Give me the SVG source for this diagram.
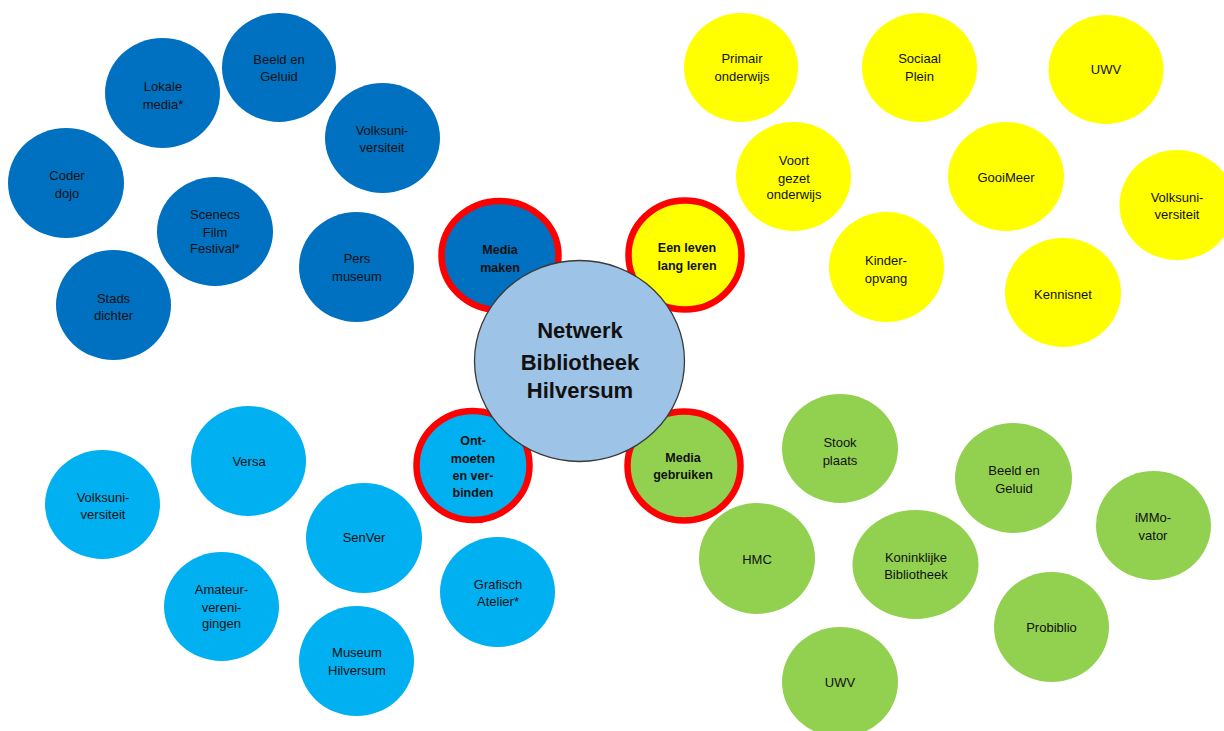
<svg xmlns="http://www.w3.org/2000/svg" width="1224" height="731" viewBox="0 0 1224 731">
<style>
text{font-family:"Liberation Sans",Arial,sans-serif;text-anchor:middle;fill:#111}
.t{font-size:13px}
.b{font-size:12.5px;font-weight:bold}
.c{font-size:22px;font-weight:bold}
.db{fill:#0070C0}
.ye{fill:#FFFF00}
.lb{fill:#00B0F0}
.gr{fill:#92D050}
.cat{stroke:#FF0000;stroke-width:6.5}
.hub{fill:#9DC3E6;stroke:#3a3a3a;stroke-width:1.3}
</style>
<rect width="1224" height="731" fill="#fff"/>
<g id="connectors"></g>

<!-- Dark blue: Media maken network -->
<g id="n-lokale-media"><ellipse class="db" cx="162.5" cy="93" rx="57.5" ry="55"/><text class="t" x="163" y="90.5">Lokale</text><text class="t" x="163" y="108.5">media*</text></g>
<g id="n-beeld-geluid-1"><ellipse class="db" cx="279" cy="67.5" rx="57" ry="54.5"/><text class="t" x="279" y="63.5">Beeld en</text><text class="t" x="279" y="80.5">Geluid</text></g>
<g id="n-volksuni-1"><ellipse class="db" cx="382.5" cy="138" rx="57.5" ry="55"/><text class="t" x="382" y="134.5">Volksuni-</text><text class="t" x="382" y="151.5">versiteit</text></g>
<g id="n-coder-dojo"><ellipse class="db" cx="66" cy="183" rx="58" ry="55"/><text class="t" x="67" y="179.5">Coder</text><text class="t" x="67" y="197.5">dojo</text></g>
<g id="n-scenecs"><ellipse class="db" cx="215" cy="231.5" rx="58" ry="54.5"/><text class="t" x="215" y="218.5">Scenecs</text><text class="t" x="215" y="236.5">Film</text><text class="t" x="215" y="252.5">Festival*</text></g>
<g id="n-stads-dichter"><ellipse class="db" cx="113.5" cy="305" rx="57.5" ry="55"/><text class="t" x="113.5" y="302.5">Stads</text><text class="t" x="113.5" y="319.5">dichter</text></g>
<g id="n-pers-museum"><ellipse class="db" cx="356.5" cy="267" rx="57.5" ry="55"/><text class="t" x="357" y="262.5">Pers</text><text class="t" x="357" y="280.5">museum</text></g>

<!-- Yellow: Een leven lang leren network -->
<g id="n-primair"><ellipse class="ye" cx="741" cy="67.5" rx="57" ry="54.5"/><text class="t" x="742" y="62.5">Primair</text><text class="t" x="742" y="80.5">onderwijs</text></g>
<g id="n-sociaal-plein"><ellipse class="ye" cx="919.5" cy="67.5" rx="57.5" ry="54.5"/><text class="t" x="919.5" y="62.5">Sociaal</text><text class="t" x="919.5" y="80.5">Plein</text></g>
<g id="n-uwv-1"><ellipse class="ye" cx="1106" cy="69.5" rx="57.5" ry="54.5"/><text class="t" x="1106" y="73.5">UWV</text></g>
<g id="n-voortgezet"><ellipse class="ye" cx="793.5" cy="176.5" rx="57.5" ry="54.5"/><text class="t" x="794" y="164.5">Voort</text><text class="t" x="794" y="182.5">gezet</text><text class="t" x="794" y="198.5">onderwijs</text></g>
<g id="n-gooimeer"><ellipse class="ye" cx="1006" cy="176.5" rx="58" ry="54.5"/><text class="t" x="1006" y="181.5">GooiMeer</text></g>
<g id="n-volksuni-2"><ellipse class="ye" cx="1177" cy="205" rx="57.5" ry="55"/><text class="t" x="1177" y="201.5">Volksuni-</text><text class="t" x="1177" y="218.5">versiteit</text></g>
<g id="n-kinderopvang"><ellipse class="ye" cx="886.5" cy="267" rx="57.5" ry="55"/><text class="t" x="886" y="264.5">Kinder-</text><text class="t" x="886" y="282.5">opvang</text></g>
<g id="n-kennisnet"><ellipse class="ye" cx="1063" cy="292.5" rx="58" ry="54.5"/><text class="t" x="1063" y="298.5">Kennisnet</text></g>

<!-- Light blue: Ontmoeten en verbinden network -->
<g id="n-volksuni-3"><ellipse class="lb" cx="102.5" cy="504.5" rx="57.5" ry="54.5"/><text class="t" x="103" y="501.5">Volksuni-</text><text class="t" x="103" y="518.5">versiteit</text></g>
<g id="n-versa"><ellipse class="lb" cx="248.5" cy="461" rx="57.5" ry="55"/><text class="t" x="249" y="465.5">Versa</text></g>
<g id="n-senver"><ellipse class="lb" cx="364" cy="538" rx="58" ry="55"/><text class="t" x="364" y="541.5">SenVer</text></g>
<g id="n-amateur"><ellipse class="lb" cx="221.5" cy="606.5" rx="57.5" ry="54.5"/><text class="t" x="221.5" y="593.5">Amateur-</text><text class="t" x="221.5" y="611.5">vereni-</text><text class="t" x="221.5" y="627.5">gingen</text></g>
<g id="n-museum-hilversum"><ellipse class="lb" cx="356.5" cy="661" rx="57.5" ry="55"/><text class="t" x="357" y="656.5">Museum</text><text class="t" x="357" y="674.5">Hilversum</text></g>
<g id="n-grafisch-atelier"><ellipse class="lb" cx="497.5" cy="592" rx="57.5" ry="55"/><text class="t" x="498" y="588.5">Grafisch</text><text class="t" x="498" y="605.5">Atelier*</text></g>

<!-- Green: Media gebruiken network -->
<g id="n-stookplaats"><ellipse class="gr" cx="840" cy="448.5" rx="58" ry="54.5"/><text class="t" x="840" y="446.5">Stook</text><text class="t" x="840" y="464.5">plaats</text></g>
<g id="n-beeld-geluid-2"><ellipse class="gr" cx="1013.5" cy="478" rx="58.5" ry="55"/><text class="t" x="1014" y="474.5">Beeld en</text><text class="t" x="1014" y="492.5">Geluid</text></g>
<g id="n-immovator"><ellipse class="gr" cx="1153.5" cy="525.5" rx="57.5" ry="54.5"/><text class="t" x="1153" y="521.5">iMMo-</text><text class="t" x="1153" y="539.5">vator</text></g>
<g id="n-hmc"><ellipse class="gr" cx="757" cy="558.5" rx="58" ry="55.5"/><text class="t" x="757" y="563.5">HMC</text></g>
<g id="n-kb"><ellipse class="gr" cx="915.5" cy="564.5" rx="63" ry="54.5"/><text class="t" x="916" y="561.5">Koninklijke</text><text class="t" x="916" y="578.5">Bibliotheek</text></g>
<g id="n-probiblio"><ellipse class="gr" cx="1051.5" cy="627" rx="57.5" ry="55"/><text class="t" x="1051.5" y="631.5">Probiblio</text></g>
<g id="n-uwv-2"><ellipse class="gr" cx="840" cy="682" rx="58" ry="55"/><text class="t" x="840" y="686.5">UWV</text></g>

<!-- Category circles -->
<g id="n-media-maken"><ellipse class="db cat" cx="500" cy="255.5" rx="58.5" ry="54.5"/><text class="b" x="500" y="253.5">Media</text><text class="b" x="500" y="271.5">maken</text></g>
<g id="n-een-leven"><ellipse class="ye cat" cx="685" cy="255" rx="56.5" ry="54.5"/><text class="b" x="687" y="251.5">Een leven</text><text class="b" x="687" y="269.5">lang leren</text></g>
<g id="n-ontmoeten"><ellipse class="lb cat" cx="473" cy="465.5" rx="56.5" ry="54.5"/><text class="b" x="473" y="444.5">Ont-</text><text class="b" x="473" y="462.5">moeten</text><text class="b" x="473" y="479.5">en ver-</text><text class="b" x="473" y="496.5">binden</text></g>
<g id="n-media-gebruiken"><ellipse class="gr cat" cx="684" cy="466" rx="56.5" ry="54.5"/><text class="b" x="683" y="461.5">Media</text><text class="b" x="683" y="478.5">gebruiken</text></g>

<!-- Hub -->
<g id="n-hub"><ellipse class="hub" cx="579.5" cy="361" rx="105" ry="100.5"/><text class="c" x="580" y="337.5">Netwerk</text><text class="c" x="580" y="369.5">Bibliotheek</text><text class="c" x="580" y="397.5">Hilversum</text></g>
</svg>
